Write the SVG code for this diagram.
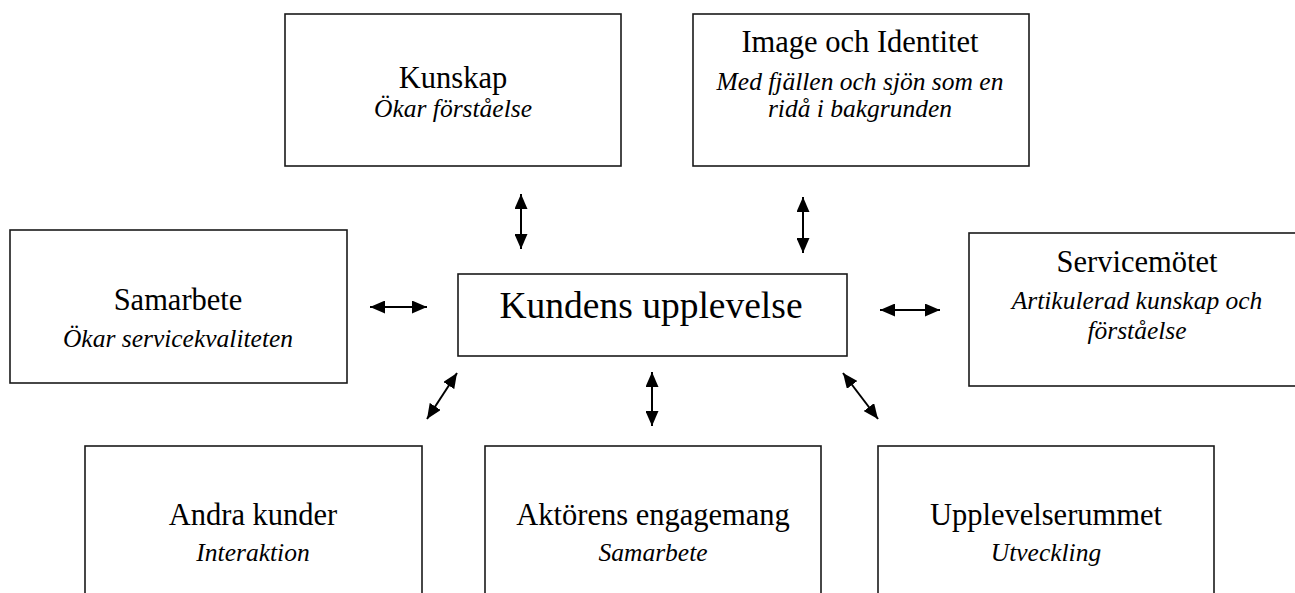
<svg xmlns="http://www.w3.org/2000/svg" width="1295" height="593" viewBox="0 0 1295 593">
<style>
.box{fill:#fff;stroke:#1a1a1a;stroke-width:1.6}
.t{font-family:"Liberation Serif","Times New Roman",serif;font-size:30.5px;fill:#000;text-anchor:middle}
.c{font-family:"Liberation Serif","Times New Roman",serif;font-size:37.5px;fill:#000;text-anchor:middle}
.i{font-family:"Liberation Serif","Times New Roman",serif;font-size:25.5px;font-style:italic;fill:#000;text-anchor:middle}
.con{stroke:#000;stroke-width:2;fill:none;marker-start:url(#ah);marker-end:url(#ah)}
</style>
<defs>
<marker id="ah" markerUnits="userSpaceOnUse" markerWidth="15" markerHeight="13" refX="15" refY="6.5" orient="auto-start-reverse">
<path d="M0,0 L15,6.5 L0,13 z" fill="#000"/>
</marker>
</defs>
<rect width="1295" height="593" fill="#fff"/>
<g id="kunskap">
<rect class="box" x="285" y="14" width="336" height="152"/>
<text class="t" x="453" y="88">Kunskap</text>
<text class="i" x="453" y="117">Ökar förståelse</text>
</g>
<g id="image">
<rect class="box" x="693" y="14" width="336" height="152"/>
<text class="t" x="860" y="52">Image och Identitet</text>
<text class="i" x="860" y="90">Med fjällen och sjön som en</text>
<text class="i" x="860" y="117">ridå i bakgrunden</text>
</g>
<g id="samarbete">
<rect class="box" x="10" y="230" width="337" height="153"/>
<text class="t" x="178" y="310">Samarbete</text>
<text class="i" x="178" y="347">Ökar servicekvaliteten</text>
</g>
<g id="kundens">
<rect class="box" x="458" y="274" width="389" height="82"/>
<text class="c" x="651" y="318">Kundens upplevelse</text>
</g>
<g id="servicemotet">
<rect class="box" x="969" y="233" width="340" height="153"/>
<text class="t" x="1137" y="272">Servicemötet</text>
<text class="i" x="1137" y="309">Artikulerad kunskap och</text>
<text class="i" x="1137" y="339">förståelse</text>
</g>
<g id="andra">
<rect class="box" x="85" y="446" width="337" height="160"/>
<text class="t" x="253" y="525">Andra kunder</text>
<text class="i" x="253" y="561">Interaktion</text>
</g>
<g id="aktorens">
<rect class="box" x="485" y="446" width="336" height="160"/>
<text class="t" x="653" y="525">Aktörens engagemang</text>
<text class="i" x="653" y="561">Samarbete</text>
</g>
<g id="upplevelserummet">
<rect class="box" x="878" y="446" width="336" height="160"/>
<text class="t" x="1046" y="525">Upplevelserummet</text>
<text class="i" x="1046" y="561">Utveckling</text>
</g>
<g id="connectors">
<line class="con" x1="521" y1="194" x2="521" y2="249"/>
<line class="con" x1="803" y1="197" x2="803" y2="253"/>
<line class="con" x1="370" y1="307" x2="427" y2="307"/>
<line class="con" x1="880" y1="310" x2="940" y2="310"/>
<line class="con" x1="457" y1="373" x2="427" y2="419"/>
<line class="con" x1="652" y1="372" x2="652" y2="426"/>
<line class="con" x1="843" y1="373" x2="878" y2="419"/>
</g>
</svg>
